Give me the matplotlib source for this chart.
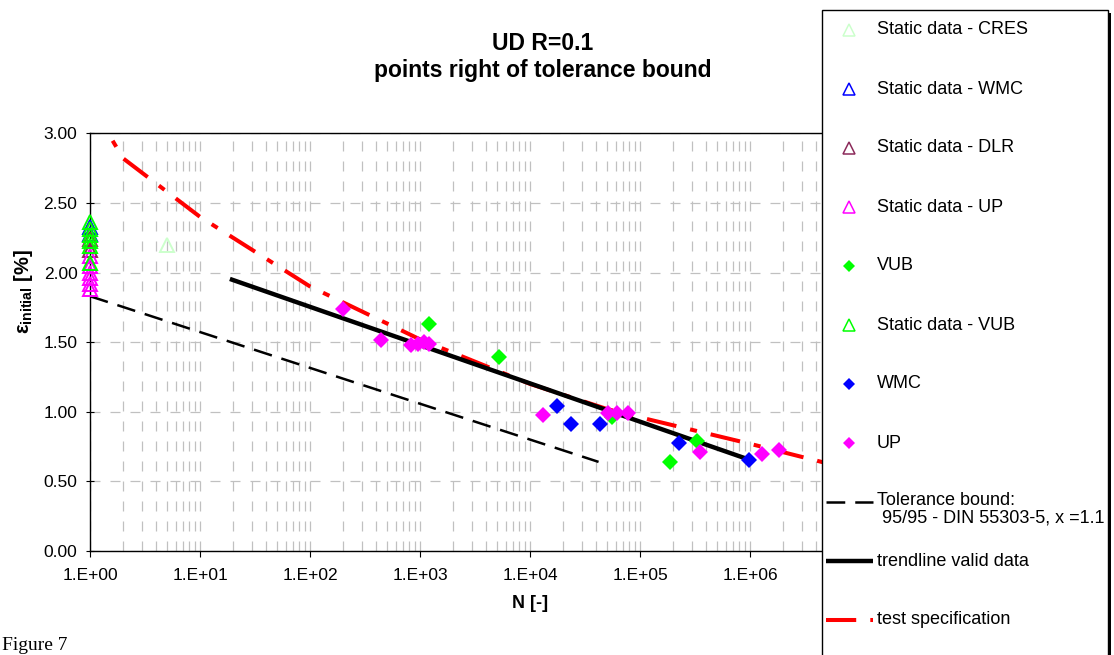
import numpy as np
import matplotlib
matplotlib.use("Agg")
import matplotlib.pyplot as plt
from matplotlib.lines import Line2D
from matplotlib.patches import Rectangle
from matplotlib.ticker import LogLocator, FuncFormatter, FixedLocator

plt.rcParams['font.family'] = ['Liberation Sans', 'DejaVu Sans']
plt.rcParams['mathtext.fontset'] = 'custom'
plt.rcParams['mathtext.rm'] = 'Liberation Sans'
plt.rcParams['mathtext.bf'] = 'Liberation Sans:bold'
plt.rcParams['mathtext.it'] = 'Liberation Sans:italic'

W, H = 1114, 655

# static strength data (plotted at N = 1, CRES at N = 5)
static_cres_n = [5]
static_cres_eps = [2.20]
static_wmc_n = [1, 1]
static_wmc_eps = [2.33, 2.28]
static_dlr_n = [1, 1]
static_dlr_eps = [2.24, 2.16]
static_up_n = [1, 1, 1, 1, 1, 1]
static_up_eps = [2.12, 2.05, 2.00, 1.96, 1.92, 1.88]
static_vub_n = [1, 1, 1, 1, 1, 1]
static_vub_eps = [2.36, 2.31, 2.27, 2.23, 2.19, 2.07]

# fatigue results: cycles to failure vs initial strain
vub_n = [1200, 5200, 56000, 187000, 331000]
vub_eps = [1.63, 1.39, 0.96, 0.64, 0.79]
wmc_n = [17600, 23600, 43300, 226000, 980000]
wmc_eps = [1.04, 0.91, 0.91, 0.776, 0.654]
up_n = [200, 442, 820, 950, 1080, 1200, 13100, 51200, 61900, 77900,
        351000, 1285000, 1840000]
up_eps = [1.74, 1.516, 1.48, 1.49, 1.50, 1.49, 0.977, 0.99, 0.99, 0.99,
          0.71, 0.70, 0.726]

# lines
tol_n = [1, 42000]
tol_eps = [1.83, 0.64]
trend_n = [18.7, 1.0e6]
trend_eps = [1.954, 0.654]
spec_n = [1, 2, 10, 100, 1000, 1e4, 5e4, 1e5, 1e6, 1e7]
spec_eps = [3.22, 2.82, 2.40, 1.90, 1.52, 1.20, 1.02, 0.96, 0.77, 0.57]

# styles
tri = dict(ls='none', marker='^', mfc='none', mew=1.4)
dia = dict(ls='none', marker='D', mew=0)
st_cres = dict(tri, color='#ccffcc', ms=10.5)
st_wmc = dict(tri, color='#0000ff', ms=10)
st_dlr = dict(tri, color='#8b2a5a', ms=10)
st_up = dict(tri, color='#ff00ff', ms=10)
st_vubs = dict(tri, color='#00ff00', ms=10)
d_vub = dict(dia, color='#00ff00', ms=8.5)
d_wmc = dict(dia, color='#0000ff', ms=8.5)
d_up = dict(dia, color='#ff00ff', ms=8.5)
l_tol = dict(color='black', lw=1.8, dashes=(7.5, 4), dash_capstyle='butt')
l_trend = dict(color='black', lw=3.2, solid_capstyle='butt')
l_spec = dict(color='#ff0000', lw=2.9, dashes=(7.5, 3.5, 1.75, 3.5),
              dash_capstyle='butt')


def xfmt(v, p):
    # decades under the legend box get no label
    if v < 0.99 or v > 2e6:
        return ""
    return "1.E+%02d" % round(np.log10(v))


fig = plt.figure(figsize=(W / 100, H / 100), dpi=100)
ax = fig.add_axes([90 / W, 1 - 551 / H, 880 / W, (551 - 133.3) / H])
ax.set_xscale('log')
ax.set_xlim(1, 1e8)
ax.set_ylim(0, 3)

ax.xaxis.set_major_locator(LogLocator(base=10, numticks=20))
ax.xaxis.set_minor_locator(LogLocator(base=10, subs=np.arange(2, 10), numticks=20))
ax.xaxis.set_major_formatter(FuncFormatter(xfmt))
ax.yaxis.set_major_locator(FixedLocator(np.arange(0, 3.01, 0.5)))
ax.yaxis.set_major_formatter(FuncFormatter(lambda v, p: "%.2f" % v))
ax.tick_params(which='minor', length=0)
ax.tick_params(axis='x', which='major', direction='out', length=4, pad=8, labelsize=12.5)
ax.tick_params(axis='y', which='major', direction='inout', length=6, pad=6, labelsize=12.5)

grid_kw = dict(color='#c0c0c0', lw=0.9, ls=(0, (8, 8)))
ax.grid(True, axis='x', which='both', **grid_kw)
ax.grid(True, axis='y', which='major', **grid_kw)
ax.set_axisbelow(True)
for s in ax.spines.values():
    s.set_linewidth(1.0)

ax.plot(spec_n, spec_eps, zorder=2, **l_spec)
ax.plot(trend_n, trend_eps, zorder=3, **l_trend)
ax.plot(tol_n, tol_eps, zorder=3, **l_tol)

series = [
    (static_cres_n, static_cres_eps, st_cres),
    (static_wmc_n, static_wmc_eps, st_wmc),
    (static_dlr_n, static_dlr_eps, st_dlr),
    (static_up_n, static_up_eps, st_up),
    (vub_n, vub_eps, d_vub),
    (static_vub_n, static_vub_eps, st_vubs),
    (wmc_n, wmc_eps, d_wmc),
    (up_n, up_eps, d_up),
]
for n, e, st in series:
    ax.plot(n, e, zorder=4, clip_on=False, **st)

ax.set_xlabel("N [-]", fontsize=13, fontweight='bold')
ax.xaxis.set_label_coords(0.5, -0.105)
ax.set_ylabel(r"$\mathbf{\varepsilon_{initial}}$ [%]", fontsize=14.5, fontweight='bold')
ax.yaxis.set_label_coords(-0.062, 0.62)

fig.text(543 / W, 1 - 57 / H, "UD R=0.1\npoints right of tolerance bound",
         ha='center', va='center', fontsize=16.5, fontweight='bold', linespacing=1.25)

# legend box with shadow
fig.add_artist(Rectangle((825 / W, -0.05), (1111 - 825) / W, 1.05 - 13 / H,
                         transform=fig.transFigure, facecolor='black',
                         edgecolor='none', zorder=10))
fig.add_artist(Rectangle((822 / W, -0.05), (1108 - 822) / W, 1.05 - 10 / H,
                         transform=fig.transFigure, facecolor='white',
                         edgecolor='black', lw=1.0, zorder=11))

legend_labels = ["Static data - CRES", "Static data - WMC", "Static data - DLR",
                 "Static data - UP", "VUB", "Static data - VUB", "WMC", "UP",
                 "Tolerance bound:\n 95/95 - DIN 55303-5, x =1.1",
                 "trendline valid data", "test specification"]
legend_styles = [st_cres, st_wmc, st_dlr, st_up, d_vub, st_vubs, d_wmc, d_up,
                 l_tol, l_trend, l_spec]
small = {'^': 8.5, 'D': 6.5}
for i, (lab, st) in enumerate(zip(legend_labels, legend_styles)):
    yy = 1 - (30 + i * 59) / H
    st = dict(st)
    if 'marker' in st:
        st['ms'] = small[st['marker']]
        st['mew'] = min(st['mew'], 1.1)
        h = Line2D([849 / W], [yy], transform=fig.transFigure, zorder=12, **st)
    else:
        h = Line2D([826 / W, 873 / W], [yy, yy], transform=fig.transFigure,
                   zorder=12, **st)
    fig.add_artist(h)
    if "\n" in lab:
        fig.text(877 / W, yy + 10 / H, lab, ha='left', va='top', fontsize=13,
                 linespacing=1.05, zorder=12)
    else:
        fig.text(877 / W, yy, lab, ha='left', va='center', fontsize=13, zorder=12)

fig.text(0.002, 0.002, "Figure 7", ha='left', va='bottom', fontsize=14,
         family=['Liberation Serif', 'DejaVu Serif'])

fig.savefig("out.png", dpi=100)
